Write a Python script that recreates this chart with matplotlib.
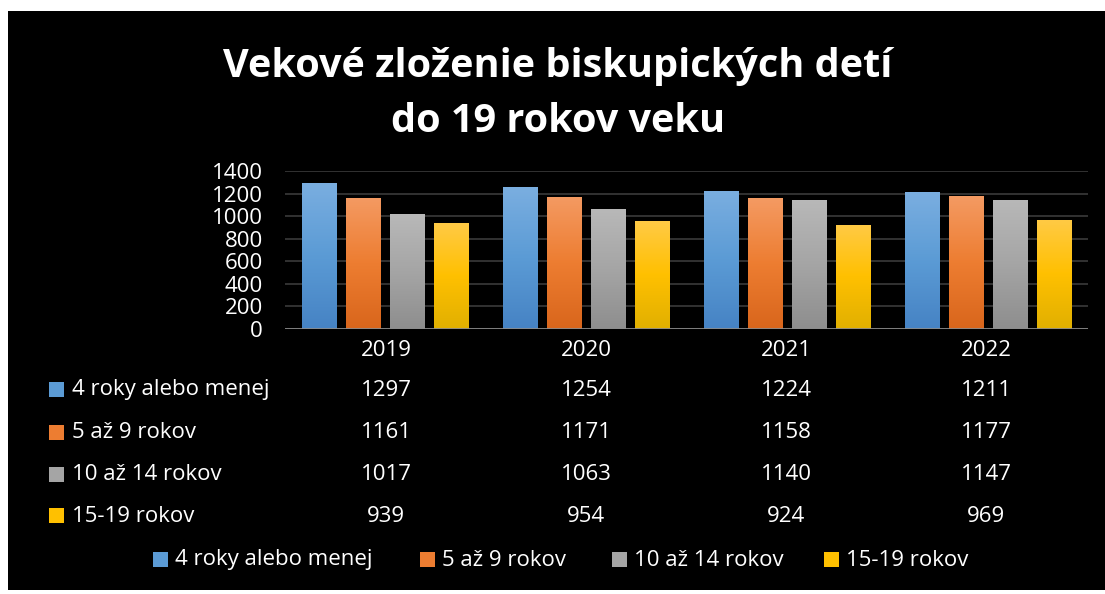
import numpy as np
import matplotlib
matplotlib.use("Agg")
import matplotlib.pyplot as plt
from matplotlib.patches import Rectangle
from matplotlib.colors import LinearSegmentedColormap

plt.rcParams['font.family'] = ['Open Sans', 'DejaVu Sans']

# -------------------------
# data
# -------------------------
years = ["2019", "2020", "2021", "2022"]
series = ["4 roky alebo menej", "5 až 9 rokov", "10 až 14 rokov", "15-19 rokov"]
v_0_4 = [1297, 1254, 1224, 1211]
v_5_9 = [1161, 1171, 1158, 1177]
v_10_14 = [1017, 1063, 1140, 1147]
v_15_19 = [939, 954, 924, 969]
yticks = [0, 200, 400, 600, 800, 1000, 1200, 1400]
title = "Vekové zloženie biskupických detí\ndo 19 rokov veku"

values = [v_0_4, v_5_9, v_10_14, v_15_19]
# (top, mid, bottom) gradient colors
grads = [("#7aaee0", "#5b9bd5", "#4683c4"),
         ("#f49a62", "#ed7d31", "#d9661c"),
         ("#b8b8b8", "#a5a5a5", "#8e8e8e"),
         ("#ffca45", "#ffc000", "#e1b000")]
legend_cols = ["#5b9bd5", "#ed7d31", "#a5a5a5", "#ffc000"]

FS = 16
W, H = 1105, 594
fig = plt.figure(figsize=(W / 100, H / 100), dpi=100, facecolor="white")

def fx(px):
    return px / W

def fy(py):
    return 1 - py / H

# black chart area
fig.patches.append(Rectangle((fx(8), fy(590)), fx(1105 - 8), (590 - 11) / H,
                             transform=fig.transFigure, facecolor="black",
                             edgecolor="none", zorder=-10))

ax = fig.add_axes([fx(285), fy(329), fx(1088 - 285), (329 - 171) / H])
ax.set_facecolor("black")
ax.set_xlim(-0.5, 3.5)
ax.set_ylim(0, 1400)
ax.set_yticks(yticks)
ax.set_yticklabels([str(t) for t in yticks], color="white", fontsize=FS)
ax.tick_params(axis="y", length=0, pad=16)
ax.set_xticks([])
for s in ax.spines.values():
    s.set_visible(False)
for t in yticks[1:]:
    ax.axhline(t, color="#3a3a3a", lw=1.2, zorder=1)
ax.axhline(0, color="#8c8c8c", lw=2, zorder=4)

x = np.arange(len(years))
bw = 0.17
step = 0.219
for i, (vals, g) in enumerate(zip(values, grads)):
    cmap = LinearSegmentedColormap.from_list(f"g{i}", [g[2], g[1], g[0]])
    grad = np.linspace(0, 1, 100).reshape(-1, 1)
    bars = ax.bar(x + (i - 1.5) * step, vals, width=bw, color=g[1], zorder=2)
    for b in bars:
        bx, by = b.get_x(), b.get_y()
        bwid, bh = b.get_width(), b.get_height()
        im = ax.imshow(grad, cmap=cmap, aspect="auto", origin="lower",
                       extent=[bx, bx + bwid, by, by + bh], zorder=3)
        im.set_clip_path(b)
ax.set_xlim(-0.5, 3.5)
ax.set_ylim(0, 1400)

# title
fig.text(fx(558), fy(94), title, ha="center", va="center", color="white",
         fontsize=28.5, fontweight="bold", linespacing=1.55)

# data table
centers_px = [386, 586, 786, 986]
for c, yr in zip(centers_px, years):
    fig.text(fx(c), fy(350), yr, ha="center", va="center", color="white", fontsize=FS)

row_y = [390, 433, 475, 516]
for ry, name, vals, col in zip(row_y, series, values, legend_cols):
    fig.patches.append(Rectangle((fx(49), fy(ry + 7)), fx(15), 15 / H,
                                 transform=fig.transFigure, facecolor=col,
                                 edgecolor="none"))
    fig.text(fx(72), fy(ry), name, ha="left", va="center", color="white", fontsize=FS)
    for c, v in zip(centers_px, vals):
        fig.text(fx(c), fy(ry), str(v), ha="center", va="center", color="white", fontsize=FS)

# bottom legend
leg_x = [153, 420, 612, 824]
for lx, name, col in zip(leg_x, series, legend_cols):
    fig.patches.append(Rectangle((fx(lx), fy(567)), fx(15), 15 / H,
                                 transform=fig.transFigure, facecolor=col,
                                 edgecolor="none"))
    fig.text(fx(lx + 22), fy(560), name, ha="left", va="center", color="white", fontsize=FS)

fig.savefig("out.png", dpi=100, facecolor="white")
